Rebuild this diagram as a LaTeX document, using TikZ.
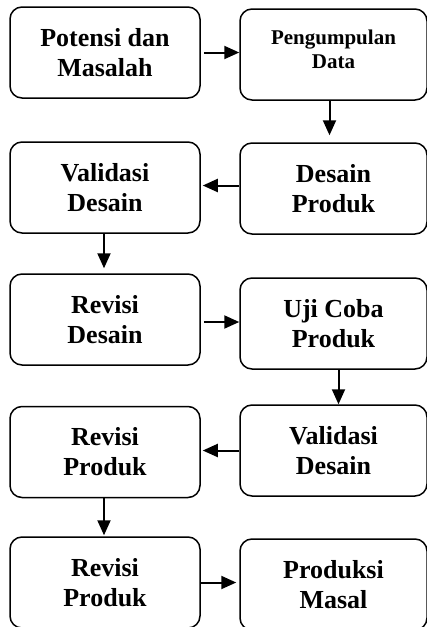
\documentclass[tikz,border=0pt]{standalone}
\usepackage{fontspec}
\setmainfont{Liberation Serif}
\usetikzlibrary{arrows.meta}
\tikzstyle{flowbox} = [
    draw=black,
    line width=1.5pt,
    rectangle,
    rounded corners=12pt,
    minimum height=91pt,
    inner sep=0pt,
    align=center,
    font=\fontsize{26}{30}\selectfont\bfseries
    ]
\tikzstyle{leftbox} = [flowbox, minimum width=190pt]
\tikzstyle{rightbox} = [flowbox, minimum width=187pt]
\tikzstyle{flowarrow} = [
    line width=2pt,
    -{Triangle[length=15pt,width=13pt]}
    ]

\begin{document}
\begin{tikzpicture}[x=1pt,y=-1pt]
\useasboundingbox (0,0) rectangle (427,627);

\node [leftbox] (potensi) at (105,52.5) {Potensi dan\\Masalah};
\node [rightbox, font=\fontsize{21}{24}\selectfont\bfseries, text depth=11pt]
    (pengumpulan) at (333.5,54.5) {Pengumpulan\\Data};
\node [leftbox] (validasi) at (105,187.5) {Validasi\\Desain};
\node [rightbox] (desain) at (333.5,188.5) {Desain\\Produk};
\node [leftbox] (revdesain) at (105,319.5) {Revisi\\Desain};
\node [rightbox] (ujicoba) at (333.5,323.5) {Uji Coba\\Produk};
\node [leftbox] (revproduk) at (105,452) {Revisi\\Produk};
\node [rightbox] (validasib) at (333.5,450.5) {Validasi\\Desain};
\node [leftbox] (revprodukb) at (105,582.5) {Revisi\\Produk};
\node [rightbox] (produksi) at (333.5,584.5) {Produksi\\Masal};

% alur
\draw [flowarrow, shorten <=3pt] (potensi.east) -- (potensi.east -| pengumpulan.west);
\draw [flowarrow, shorten >=7pt] ([xshift=-4pt]pengumpulan.south) -- ([xshift=-4pt]pengumpulan.south |- desain.north);
\draw [flowarrow, shorten >=2pt] ([yshift=3pt]desain.west) -- ([yshift=3pt]desain.west -| validasi.east);
\draw [flowarrow, shorten >=5pt] ([xshift=-1pt]validasi.south) -- ([xshift=-1pt]validasi.south |- revdesain.north);
\draw [flowarrow, shorten <=3pt] ([yshift=-2.5pt]revdesain.east) -- ([yshift=-2.5pt]revdesain.east -| ujicoba.west);
\draw [flowarrow] ([xshift=5pt]ujicoba.south) -- ([xshift=5pt]ujicoba.south |- validasib.north);
\draw [flowarrow, shorten >=2pt] (validasib.west) -- (validasib.west -| revproduk.east);
\draw [flowarrow, shorten >=1pt] ([xshift=-1pt]revproduk.south) -- ([xshift=-1pt]revproduk.south |- revprodukb.north);
\draw [flowarrow, shorten >=3pt] (revprodukb.east) -- (revprodukb.east -| produksi.west);
\end{tikzpicture}
\end{document}
